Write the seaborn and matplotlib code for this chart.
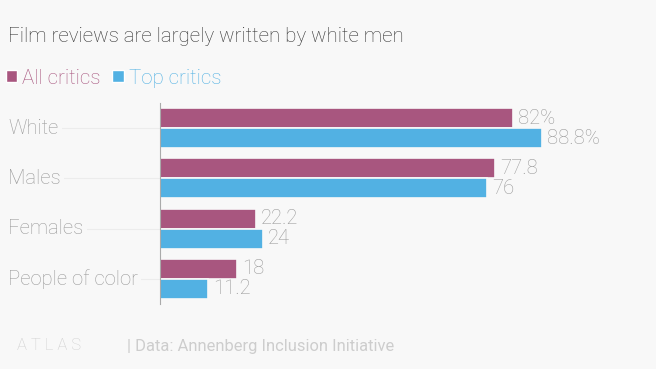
import pandas as pd
import seaborn as sns
import matplotlib.pyplot as plt
from matplotlib.patches import Patch

# data
categories = ["White", "Males", "Females", "People of color"]
groups = ["All critics", "Top critics"]
all_critics = [82, 77.8, 22.2, 18]
top_critics = [88.8, 76, 24, 11.2]

BG = "#f8f8f8"
PURPLE = "#a8567f"
BLUE = "#52b1e3"
GREY = "#9a9a9a"

df = pd.DataFrame({
    "category": categories * 2,
    "group": [groups[0]] * 4 + [groups[1]] * 4,
    "value": all_critics + top_critics,
})

sns.set_theme(style="white")
plt.rcParams["font.family"] = ["Roboto", "DejaVu Sans"]

fig = plt.figure(figsize=(6.56, 3.69), dpi=100, facecolor=BG)
ax = fig.add_axes([160 / 656, 1 - 304 / 369, (590.5 - 160) / 656, 201 / 369])
ax.set_facecolor(BG)

sns.barplot(data=df, y="category", x="value", hue="group", order=categories,
            hue_order=groups, palette=[PURPLE, BLUE], orient="h", width=0.8,
            edgecolor=BG, linewidth=1.2, saturation=1, legend=False, ax=ax)

ax.set_xlim(0, 100)
ax.set_ylim(3.5, -0.5)
ax.set_xlabel("")
ax.set_ylabel("")
ax.set_xticks([])
ax.set_yticks(range(len(categories)))
ax.set_yticklabels([])
ax.tick_params(left=False, bottom=False)
for s in ["top", "right", "bottom"]:
    ax.spines[s].set_visible(False)
ax.spines["left"].set_color("#aaaaaa")
ax.spines["left"].set_linewidth(0.8)

# value labels
for cont, vals in zip(ax.containers, [all_critics, top_critics]):
    labs = [f"{v:g}" + ("%" if i == 0 else "") for i, v in enumerate(vals)]
    ax.bar_label(cont, labels=labs, padding=3.5, color=GREY, fontsize=14.6,
                 fontweight="light")

# category labels with faint guide lines
trans = ax.get_yaxis_transform().__class__(fig.transFigure, ax.transData)
for i, c in enumerate(categories):
    ax.text(8 / 656, i, c, transform=trans, ha="left", va="center", color=GREY,
            fontsize=14.6, fontweight="light", zorder=3,
            bbox=dict(facecolor=BG, edgecolor="none", pad=2.5))
    ax.plot([-150 / 4.305, 0], [i, i], color="#ececec", lw=0.8, clip_on=False,
            zorder=0)

fig.text(8 / 656, 1 - 37 / 369, "Film reviews are largely written by white men",
         ha="left", va="center", fontsize=14.8, color="#333333", fontweight="light")

handles = [Patch(facecolor=PURPLE), Patch(facecolor=BLUE)]
fig.legend(handles, groups, loc="center left",
           bbox_to_anchor=(6 / 656, 1 - 78 / 369),
           ncol=2, frameon=False, handlelength=0.55, handleheight=0.55,
           handletextpad=0.25, columnspacing=0.55, borderpad=0, borderaxespad=0,
           labelcolor=[PURPLE, BLUE], prop=dict(size=14.8, weight="light"))

fig.text(17 / 656, 1 - 345 / 369, "A T L A S", ha="left", va="center",
         fontsize=12, color="#d0d0d0", fontweight="light")
fig.text(127 / 656, 1 - 347 / 369, "| Data: Annenberg Inclusion Initiative",
         ha="left", va="center", fontsize=11.9, color="#cdcdcd")

fig.savefig("out.png", dpi=100, facecolor=BG)
